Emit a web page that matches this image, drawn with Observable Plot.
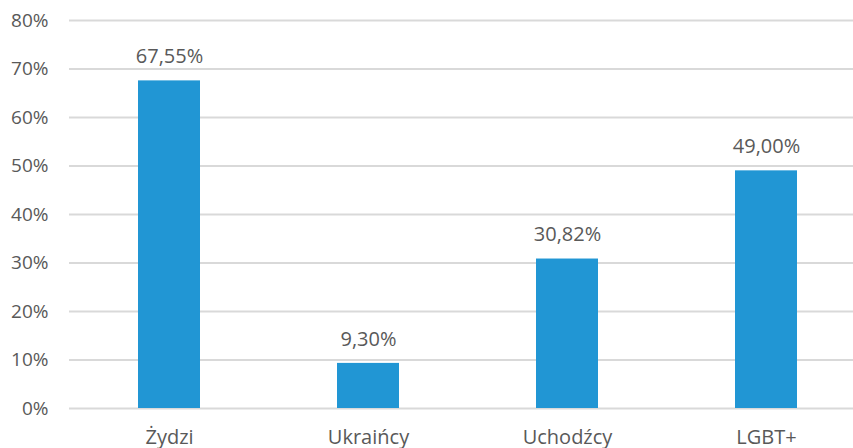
<!DOCTYPE html>
<html>
<head>
<meta charset="utf-8">
<script src="https://cdn.jsdelivr.net/npm/d3@7"></script>
<script src="https://cdn.jsdelivr.net/npm/@observablehq/plot@0.6"></script>
<style>
  html, body { margin: 0; padding: 0; background: #fff; }
</style>
</head>
<body>
<div id="chart"></div>
<script>
const categories = ["Żydzi", "Ukraińcy", "Uchodźcy", "LGBT+"];
const values = [67.55, 9.30, 30.82, 49.00];
const yTicks = [0, 10, 20, 30, 40, 50, 60, 70, 80];

const data = categories.map((c, i) => ({category: c, value: values[i]}));
const fmt = v => v.toFixed(2).replace(".", ",") + "%";

const chart = Plot.plot({
  width: 853,
  height: 448,
  marginLeft: 69,
  marginRight: 0,
  marginTop: 20,
  marginBottom: 40,
  style: {fontFamily: "'Open Sans', sans-serif", fontSize: "18px", color: "#595959", background: "#fff"},
  x: {domain: categories, range: [69, 865], paddingInner: 0.69, paddingOuter: 0.345, label: null},
  y: {domain: [0, 80], label: null},
  marks: [
    Plot.ruleY(yTicks, {stroke: "#d9d9d9", strokeWidth: 1.8}),
    Plot.barY(data, {x: "category", y: "value", fill: "#2196d4"}),
    Plot.text(data, {x: "category", y: "value", text: d => fmt(d.value), dy: -24, fill: "#595959", fontSize: 20}),
    Plot.axisY({ticks: yTicks, tickSize: 0, tickPadding: 21, tickFormat: d => d + "%", fontSize: 19, fill: "#595959", label: null}),
    Plot.axisX({tickSize: 0, tickPadding: 21, fontSize: 20, fill: "#595959", label: null})
  ]
});
document.getElementById("chart").appendChild(chart);
</script>
</body>
</html>
